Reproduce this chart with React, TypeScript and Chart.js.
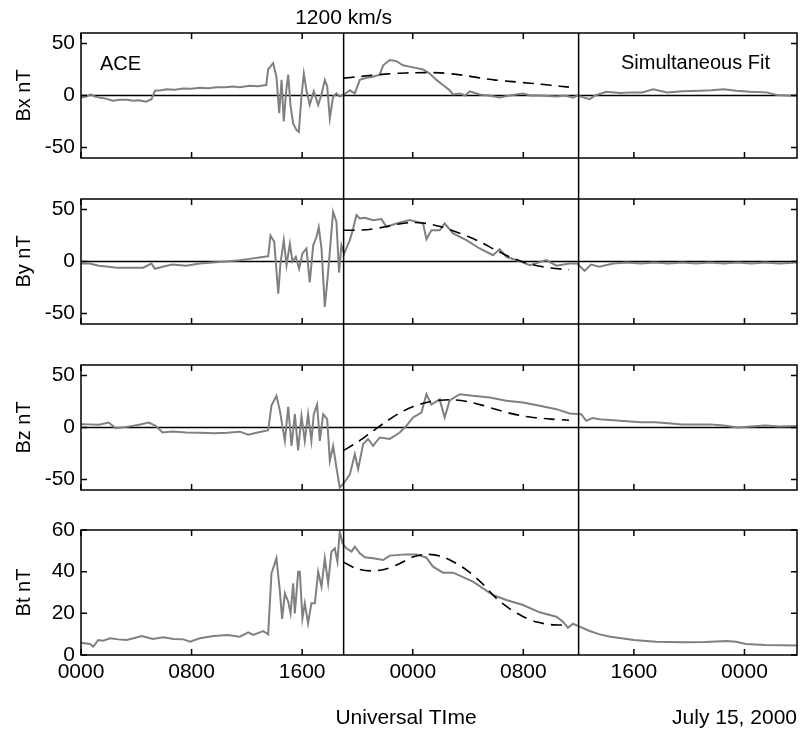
import React, { useEffect, useRef } from "react";
import { Chart, registerables } from "chart.js";

Chart.register(...registerables);

// ---------------- DATA ----------------
const xMin = 0;
const xMax = 51.8; // hours from 0000 UT, July 14
const xTickValues = [0, 8, 16, 24, 32, 40, 48];
const xTickLabels = ["0000", "0800", "1600", "0000", "0800", "1600", "0000"];
const shockHours = [19, 36];
const bTicks = [-50, 0, 50];
const btTicks = [0, 20, 40, 60];

const bxHours = [0, 0.4, 0.72, 1.0, 1.32, 1.8, 2.3, 2.8, 3.3, 3.8, 4.2, 4.7, 5.1, 5.35, 5.8, 6.2, 6.8, 7.4, 8.0, 8.6, 9.2, 9.8, 10.4, 11.0, 11.5, 12.2, 12.8, 13.4, 13.54, 13.9, 14.14, 14.34, 14.51, 14.67, 14.85, 14.99, 15.16, 15.35, 15.59, 15.76, 15.95, 16.12, 16.31, 16.55, 16.84, 17.16, 17.4, 17.64, 17.81, 18.0, 18.24, 18.48, 18.72, 19.04, 19.45, 19.81, 20.17, 20.65, 21.13, 21.61, 21.86, 22.34, 22.82, 23.3, 24.02, 24.75, 25.23, 25.71, 26.19, 26.67, 26.92, 27.4, 27.8, 28.12, 28.84, 29.5, 30.29, 31.0, 31.98, 32.5, 33.18, 34.39, 35.0, 35.59, 35.9, 36.4, 36.8, 37.2, 38.0, 39.0, 39.9, 40.6, 41.4, 42.4, 43.5, 44.8, 45.6, 46.5, 47.4, 48.4, 49.6, 50.3, 51.0, 51.8];
const bxValues = [-2, -1, 1, -1, -2, -3, -5, -4, -4, -5, -4.5, -6, -3.5, 4.5, 5, 6, 5.5, 6.7, 6.5, 7.4, 7, 8, 8, 8.7, 8, 9.3, 9, 10, 25, 31, 18, -17, 15, -25, 5, 20, -10, -27, -33, -35, -1, 21, 5, -9, 4, -9, 1, 15, 9, -22, -1, 2, -1, 1, 5, 2, 15, 17, 18, 20, 29, 34, 33, 29, 27, 25, 21, 15, 10, 5, 1, 2, 0, 4, 1, 0, -2, 0, 2, 0, 0, -1, 0, -2, 0, -2, -3.5, 0, 3.5, 2.5, 3, 3, 6, 3, 4, 4.5, 5, 6, 4.5, 3.5, 3, 0.6, 0, 0];

const byHours = [0, 0.6, 1.3, 2.0, 2.6, 3.5, 4.5, 5.1, 5.35, 5.9, 6.6, 7.6, 8.6, 9.5, 10.5, 11.49, 12.46, 13.0, 13.54, 13.71, 13.98, 14.27, 14.43, 14.67, 14.87, 15.11, 15.3, 15.54, 15.78, 16.02, 16.31, 16.55, 16.8, 17.04, 17.2, 17.4, 17.64, 17.88, 18.24, 18.48, 18.67, 18.84, 19.04, 19.45, 19.69, 19.93, 20.17, 20.53, 21.13, 21.73, 22.1, 22.82, 23.78, 24.75, 24.99, 25.35, 25.95, 26.31, 26.92, 27.88, 28.84, 29.81, 30.29, 30.77, 31.73, 32.46, 33.66, 34.39, 35.35, 35.9, 36.43, 36.9, 37.5, 38.5, 39.5, 40.5, 41.5, 42.5, 43.5, 44.5, 45.5, 46.5, 47.5, 48.5, 49.5, 50.5, 51.8];
const byValues = [-2, -2, -4, -5, -6, -6, -6, -2, -7, -5, -3, -4, -2, -1, 0, 1.3, 3, 4, 5, 25, 19, -31, -2, 20.5, -3.5, 17, 0, 4.5, -7, 7.7, 12.5, -20, 15.7, 23.7, 33, 12.5, -43.6, -10, 47.8, 38, -10.6, 15.7, 7.7, 20.5, 31.7, 44.6, 41.3, 42, 39.7, 40.7, 33.3, 36.5, 39.7, 36.5, 21.5, 30, 30, 36.5, 27, 20.5, 12.5, 6, 11.9, 4.5, 0.3, -3.5, 1.3, -4, -2, -2, -9, -3, -5, -2, -1, -2, -1, -2, -1, -2, -1, -2, -1, -2, -1, -2, -1];

const bzHours = [0, 0.6, 1.3, 2.0, 2.5, 3.3, 4.2, 4.9, 5.4, 5.9, 6.6, 7.6, 8.6, 9.6, 10.6, 11.49, 12.1, 12.7, 13.54, 13.78, 14.14, 14.39, 14.75, 14.99, 15.23, 15.47, 15.71, 15.95, 16.19, 16.43, 16.67, 16.84, 17.08, 17.28, 17.52, 17.81, 18.0, 18.24, 18.48, 18.72, 19.04, 19.45, 19.81, 20.05, 20.41, 20.77, 21.13, 21.61, 22.34, 23.06, 23.54, 24.02, 24.63, 24.99, 25.35, 25.95, 26.31, 26.67, 27.4, 28.36, 29.57, 30.77, 31.98, 33.18, 34.39, 35.35, 36.19, 36.55, 37.0, 37.5, 38.5, 39.5, 40.5, 41.5, 42.5, 43.5, 44.5, 45.5, 46.5, 47.5, 48.5, 49.5, 50.5, 51.8];
const bzValues = [3.2, 3, 2.6, 4.8, -0.6, 0.6, 2.6, 4.8, 1.6, -4.8, -3.8, -4.8, -5, -5.5, -5, -4, -7, -5, -2.6, 21, 30.4, 16, -12.8, 19.9, -17.6, 12.8, -22, 11, -12.8, 12.8, -12.8, 12.8, 22, -12.8, 12.8, 8, -32, -17.6, -38.5, -57.7, -53, -45, -25.6, -40, -16, -11, -17.6, -9.6, -11, -4.8, 1.6, 9.6, 14.4, 32, 22, 27, 9.6, 26, 32, 30.4, 28.8, 25.6, 24, 20.8, 17.6, 13.5, 12.8, 6.4, 9, 8, 7, 6, 5, 5, 4, 3, 3, 3, 2, 0, 1, 2, 1, 1.5];

const btHours = [0, 0.65, 0.89, 1.25, 1.61, 2.1, 2.7, 3.3, 3.8, 4.4, 5.2, 5.95, 6.7, 7.4, 7.9, 8.6, 9.6, 10.6, 11.49, 12.1, 12.46, 13.18, 13.54, 13.78, 14.14, 14.39, 14.55, 14.75, 14.99, 15.16, 15.35, 15.47, 15.71, 15.83, 16.02, 16.19, 16.43, 16.67, 16.92, 17.16, 17.4, 17.64, 17.88, 18.12, 18.36, 18.55, 18.72, 18.92, 19.2, 19.57, 19.81, 20.17, 20.53, 21.13, 21.86, 22.34, 23.54, 24.27, 24.99, 25.47, 26.19, 26.92, 28.36, 29.81, 30.77, 31.98, 33.18, 34.39, 34.87, 35.23, 35.59, 36.07, 36.8, 37.52, 38.3, 40.0, 41.6, 43.6, 45.2, 46.7, 47.4, 48.1, 49.5, 51.8];
const btValues = [5.9, 5.3, 4, 7.2, 6.9, 8, 7.5, 7.2, 8, 9.1, 7.7, 8.5, 7.7, 7.5, 6.4, 8, 9.1, 9.6, 8.8, 10.9, 9.6, 11.5, 9.9, 39.2, 46.4, 30.4, 17.3, 29.6, 25.6, 20, 34.4, 20, 40, 40, 17.6, 24.8, 15.2, 24.8, 24.8, 40, 32.8, 46.4, 34.4, 49.6, 51.2, 44.8, 59.2, 53.6, 51.2, 49.6, 52, 48.8, 46.9, 46.4, 45.6, 47.7, 48.3, 48.3, 46.7, 42.4, 39.5, 39.5, 35.2, 28.8, 26.4, 24, 20.5, 18.4, 16, 13, 15, 13.6, 11.5, 9.9, 8.8, 7.2, 6.4, 6.1, 6.2, 6.7, 6.4, 5.3, 4.8, 4.5];

const fitHours = [19, 20, 21, 22, 23, 24, 25, 26, 27, 28, 29, 30, 31, 32, 33, 34, 35.3];
const bxFit = [16.7, 18, 19.3, 20.5, 21.3, 21.8, 22, 21.7, 20.5, 18.8, 16.5, 14.8, 13.6, 12.4, 11.2, 9.8, 8];
const byFit = [30, 30, 31, 33.3, 36, 37.5, 36.5, 33.5, 29, 24, 18, 11, 4.5, -0.5, -4, -6.2, -8];
const bzFit = [-22, -14, -4.5, 5, 13.5, 20, 24, 26.2, 26.5, 24.7, 21.5, 17.5, 13.8, 11, 9.3, 8, 7];
const btFit = [44.5, 41.3, 40.4, 41.2, 43.7, 47, 48.3, 47.5, 44.5, 40.3, 34.5, 27.5, 22.3, 18.4, 15.8, 14.6, 14.3];

const panelLabels = ["Bx nT", "By nT", "Bz nT", "Bt nT"];

// ---------------- LAYOUT ----------------
const FONT = "'Liberation Sans', Arial, Helvetica, sans-serif";
const PAGE_W = 800;
const PAGE_H = 733;
const PANEL_TOPS = [33, 199, 365, 530];
const PANEL_H = 125;
const PLOT_LEFT = 81;
const PLOT_RIGHT = 797;
const X_AXIS_H = 40;

const panels = [
  { label: panelLabels[0], hours: bxHours, values: bxValues, fit: bxFit, yMin: -60, yMax: 60, yTicks: bTicks, zero: true },
  { label: panelLabels[1], hours: byHours, values: byValues, fit: byFit, yMin: -60, yMax: 60, yTicks: bTicks, zero: true },
  { label: panelLabels[2], hours: bzHours, values: bzValues, fit: bzFit, yMin: -60, yMax: 60, yTicks: bTicks, zero: true },
  { label: panelLabels[3], hours: btHours, values: btValues, fit: btFit, yMin: 0, yMax: 60, yTicks: btTicks, zero: false },
];

function canvasGeom(i: number) {
  const top = i === 0 ? 0 : PANEL_TOPS[i] - 20;
  const bottom = i < 3 ? PANEL_TOPS[i + 1] : PAGE_H;
  const padTop = PANEL_TOPS[i] - top;
  const padBottom = i < 3 ? bottom - (PANEL_TOPS[i] + PANEL_H) : bottom - (PANEL_TOPS[i] + PANEL_H) - X_AXIS_H;
  return { top, height: bottom - top, padTop, padBottom };
}

function makePlugin(i: number, canvasTop: number) {
  return {
    id: "frame" + i,
    beforeDatasetsDraw(chart: any) {
      const { ctx, chartArea: a, scales } = chart;
      if (panels[i].zero) {
        const y0 = scales.y.getPixelForValue(0);
        ctx.save();
        ctx.strokeStyle = "#000";
        ctx.lineWidth = 1.5;
        ctx.beginPath();
        ctx.moveTo(a.left, y0);
        ctx.lineTo(a.right, y0);
        ctx.stroke();
        ctx.restore();
      }
    },
    afterDatasetsDraw(chart: any) {
      const { ctx, chartArea: a, scales } = chart;
      const x = scales.x;
      const y = scales.y;
      ctx.save();
      ctx.strokeStyle = "#000";
      ctx.lineWidth = 1.5;
      ctx.strokeRect(a.left, a.top, a.right - a.left, a.bottom - a.top);
      const TL = 6;
      ctx.beginPath();
      xTickValues.forEach((v) => {
        const px = x.getPixelForValue(v);
        ctx.moveTo(px, a.top);
        ctx.lineTo(px, a.top + TL);
        ctx.moveTo(px, a.bottom);
        ctx.lineTo(px, a.bottom - TL);
      });
      panels[i].yTicks.forEach((v) => {
        const py = y.getPixelForValue(v);
        ctx.moveTo(a.left, py);
        ctx.lineTo(a.left + TL, py);
        ctx.moveTo(a.right, py);
        ctx.lineTo(a.right - TL, py);
      });
      ctx.stroke();
      const lineBottom = i < 3 ? chart.height : a.bottom;
      ctx.beginPath();
      shockHours.forEach((h) => {
        const px = x.getPixelForValue(h);
        ctx.moveTo(px, a.top);
        ctx.lineTo(px, lineBottom);
      });
      ctx.stroke();

      ctx.fillStyle = "#000";
      ctx.textBaseline = "middle";
      if (i === 0) {
        ctx.font = `21px ${FONT}`;
        ctx.textAlign = "center";
        ctx.fillText("1200 km/s", x.getPixelForValue(shockHours[0]), 18.5 - canvasTop);
        ctx.font = `20px ${FONT}`;
        ctx.textAlign = "left";
        ctx.fillText("ACE", 100, 64 - canvasTop);
        ctx.fillText("Simultaneous Fit", 621, 63 - canvasTop);
      }
      if (i === 3) {
        ctx.font = `21px ${FONT}`;
        ctx.textAlign = "center";
        ctx.fillText("Universal TIme", 406, 718 - canvasTop);
        ctx.textAlign = "right";
        ctx.fillText("July 15, 2000", 797, 718 - canvasTop);
      }
      ctx.restore();
    },
  };
}

export default function App() {
  const refs = [useRef<HTMLCanvasElement>(null), useRef<HTMLCanvasElement>(null), useRef<HTMLCanvasElement>(null), useRef<HTMLCanvasElement>(null)];

  useEffect(() => {
    const charts: Chart[] = [];
    panels.forEach((p, i) => {
      const canvas = refs[i].current;
      if (!canvas) return;
      const g = canvasGeom(i);
      const gray = p.hours.map((h, k) => ({ x: h, y: p.values[k] }));
      const fit = fitHours.map((h, k) => ({ x: h, y: p.fit[k] }));
      const chart = new Chart(canvas, {
        type: "line",
        data: {
          datasets: [
            {
              data: fit,
              borderColor: "#000",
              borderWidth: 1.6,
              borderDash: [11, 7],
              pointRadius: 0,
              fill: false,
              tension: 0.3,
            },
            {
              data: gray,
              borderColor: "#808080",
              borderWidth: 2,
              pointRadius: 0,
              fill: false,
              tension: 0,
            },
          ],
        },
        options: {
          animation: false,
          responsive: false,
          devicePixelRatio: 1,
          events: [],
          layout: { padding: { left: 0, right: PAGE_W - PLOT_RIGHT, top: g.padTop, bottom: g.padBottom } },
          plugins: { legend: { display: false }, tooltip: { enabled: false }, title: { display: false } },
          scales: {
            x: {
              type: "linear",
              min: xMin,
              max: xMax,
              display: i === 3,
              afterBuildTicks: (s: any) => {
                s.ticks = xTickValues.map((v) => ({ value: v }));
              },
              afterFit: (s: any) => {
                s.height = i === 3 ? X_AXIS_H : 0;
              },
              ticks: {
                callback: (_v: any, idx: number) => xTickLabels[idx],
                font: { family: FONT, size: 21 },
                color: "#000",
                padding: 5,
                maxRotation: 0,
                autoSkip: false,
              },
              grid: { display: false, drawTicks: false },
              border: { display: false },
            },
            y: {
              type: "linear",
              min: p.yMin,
              max: p.yMax,
              afterBuildTicks: (s: any) => {
                s.ticks = p.yTicks.map((v) => ({ value: v }));
              },
              afterFit: (s: any) => {
                s.width = PLOT_LEFT;
              },
              ticks: { font: { family: FONT, size: 21 }, color: "#000", padding: 6, autoSkip: false },
              grid: { display: false, drawTicks: false },
              border: { display: false },
              title: {
                display: true,
                text: p.label,
                font: { family: FONT, size: 20 },
                color: "#000",
                padding: { top: 12, bottom: 0 },
              },
            },
          },
        },
        plugins: [makePlugin(i, g.top)],
      } as any);
      charts.push(chart);
    });
    return () => charts.forEach((c) => c.destroy());
  }, []);

  return (
    <div style={{ position: "absolute", left: 0, top: 0, width: PAGE_W, height: PAGE_H, background: "#fff" }}>
      {panels.map((_p, i) => {
        const g = canvasGeom(i);
        return (
          <canvas
            key={i}
            ref={refs[i]}
            width={PAGE_W}
            height={g.height}
            style={{ position: "absolute", left: 0, top: g.top, width: PAGE_W, height: g.height }}
          />
        );
      })}
    </div>
  );
}
